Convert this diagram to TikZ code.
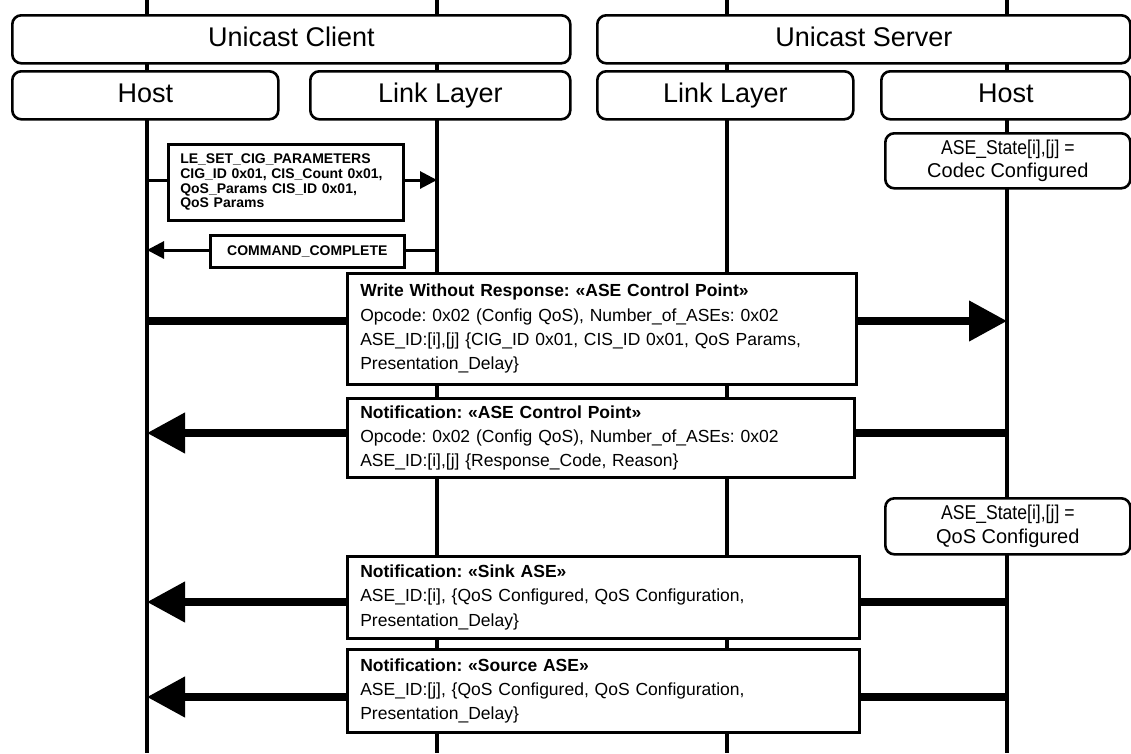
\documentclass[tikz,border=0pt]{standalone}
\usepackage{fontspec}
\setmainfont{Liberation Sans}
\usetikzlibrary{arrows.meta}
\pgfdeclarelayer{bg}
\pgfsetlayers{bg,main}
\frenchspacing
\begin{document}
\frenchspacing
\begin{tikzpicture}[x=1pt,y=-1pt,
  hdr/.style={draw,line width=2.6pt,rounded corners=9pt,fill=white,anchor=north west,inner sep=0pt,text height=19.5pt,text depth=5.5pt,font=\fontsize{27}{30}\selectfont},
  statebox/.style={draw,line width=2.6pt,rounded corners=9pt,fill=white,anchor=north west,inner sep=0pt,align=center,font=\fontsize{20}{23.5}\selectfont},
  msg/.style={draw,line width=2.6pt,fill=white,anchor=north west,inner xsep=13pt,inner ysep=0pt,align=left,font=\fontsize{17.5}{24.3}\selectfont},
  hci/.style={draw,line width=2.6pt,fill=white,anchor=north west,inner xsep=12pt,inner ysep=0pt,align=left,font=\fontsize{14}{14.6}\selectfont\bfseries},
  life/.style={line width=3.5pt},
  bigarrow/.style={line width=7.5pt,-{Triangle[length=38pt,width=39pt]}},
  smallarrow/.style={line width=3pt,-{Triangle[length=17pt,width=17pt]}},
]
\useasboundingbox (0,0) rectangle (1131,753);
% headers
\node[hdr,minimum width=558,minimum height=48] (uc) at (11,14) {Unicast Client};
\node[hdr,minimum width=533,minimum height=48] (us) at (596,14) {Unicast Server};
\node[hdr,minimum width=266,minimum height=48] (ch) at (11,70) {Host};
\node[hdr,minimum width=260,minimum height=48] (cl) at (309,70) {Link Layer};
\node[hdr,minimum width=256,minimum height=48] (sl) at (596,70) {Link Layer};
\node[hdr,minimum width=249,minimum height=48] (sh) at (880,70) {Host};
% states
\node[statebox,minimum width=245,minimum height=55] (cs) at (884,132) {\scalebox{0.88}[1]{ASE\_State[i],[j] =}\\Codec Configured};
\node[statebox,minimum width=245,minimum height=56] (qs) at (884,497) {\scalebox{0.88}[1]{ASE\_State[i],[j] =}\\QoS Configured};
% HCI messages
\node[hci,text width=211,minimum height=76] (le) at (167,143) {LE\_SET\_CIG\_PARAMETERS\\CIG\_ID 0x01, CIS\_Count 0x01,\\QoS\_Params CIS\_ID 0x01,\\QoS Params};
\node[hci,minimum width=194,minimum height=32,align=center] (cc) at (209,234) {COMMAND\_COMPLETE};
% ATT messages
\node[msg,text width=483,minimum height=111] (wr) at (346,272) {\textbf{Write Without Response: «ASE Control Point»}\\Opcode: 0x02 (Config QoS), Number\_of\_ASEs: 0x02\\ASE\_ID:[i],[j] \{CIG\_ID 0x01, CIS\_ID 0x01, QoS Params,\\Presentation\_Delay\}};
\node[msg,text width=481,minimum height=79] (nc) at (346,397) {\textbf{Notification: «ASE Control Point»}\\Opcode: 0x02 (Config QoS), Number\_of\_ASEs: 0x02\\ASE\_ID:[i],[j] \{Response\_Code, Reason\}};
\node[msg,text width=486,minimum height=82] (sk) at (346,555) {\textbf{Notification: «Sink ASE»}\\ASE\_ID:[i], \{QoS Configured, QoS Configuration,\\Presentation\_Delay\}};
\node[msg,text width=486,minimum height=83] (sr) at (346,648) {\textbf{Notification: «Source ASE»}\\ASE\_ID:[j], \{QoS Configured, QoS Configuration,\\Presentation\_Delay\}};
% coordinates
\coordinate (t1) at (147,0); \coordinate (b1) at (147,753);
\coordinate (t2) at (437,0); \coordinate (b2) at (437,753);
\coordinate (t3) at (727,0); \coordinate (b3) at (727,753);
\coordinate (t4) at (1007,0); \coordinate (b4) at (1007,753);
\coordinate (les) at (147,180); \coordinate (lee) at (437,180);
\coordinate (ccs) at (437,250); \coordinate (cce) at (147,250);
\coordinate (wrs) at (147,321); \coordinate (wre) at (1007,321);
\coordinate (ncs) at (1007,433); \coordinate (nce) at (147,433);
\coordinate (sks) at (1007,602); \coordinate (ske) at (147,602);
\coordinate (srs) at (1007,697); \coordinate (sre) at (147,697);
\begin{pgfonlayer}{bg}
\draw[life] (t1) -- (b1);
\draw[life] (t2) -- (b2);
\draw[life] (t3) -- (b3);
\draw[life] (t4) -- (b4);
\draw[smallarrow] (les) -- (lee);
\draw[smallarrow] (ccs) -- (cce);
\draw[bigarrow] (wrs) -- (wre);
\draw[bigarrow] (ncs) -- (nce);
\draw[bigarrow] (sks) -- (ske);
\draw[bigarrow] (srs) -- (sre);
\end{pgfonlayer}
\end{tikzpicture}
\end{document}
